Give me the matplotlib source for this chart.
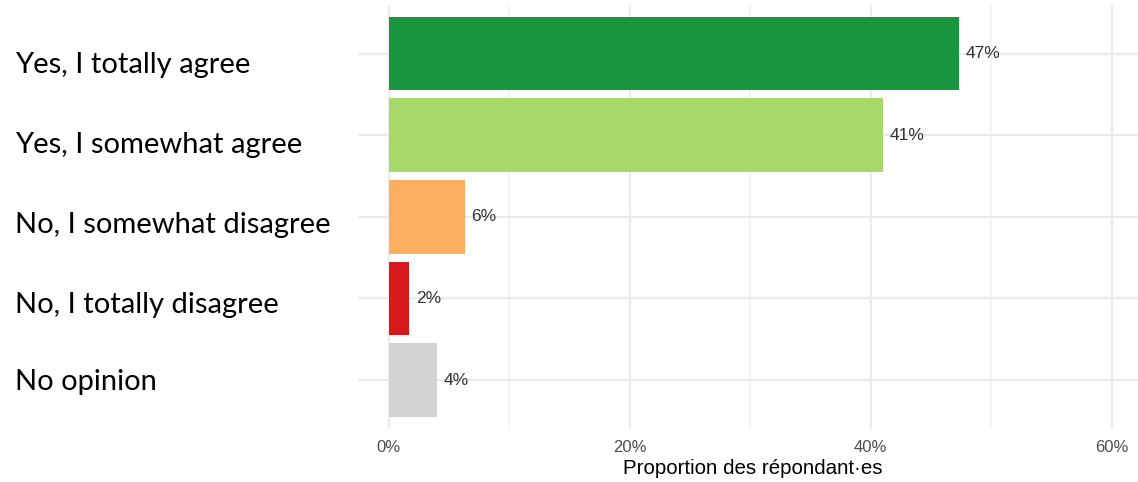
import numpy as np
import matplotlib
matplotlib.use("Agg")
import matplotlib.pyplot as plt

categories = ["Yes, I totally agree", "Yes, I somewhat agree", "No, I somewhat disagree",
              "No, I totally disagree", "No opinion"]
values = [47.3, 41.0, 6.3, 1.7, 4.0]
labels = ["47%", "41%", "6%", "2%", "4%"]
colors = ["#1a9641", "#a6d96a", "#fdae61", "#d7191c", "#d3d3d3"]
xticks = [0, 20, 40, 60]
xticklabels = ["0%", "20%", "40%", "60%"]

W, H = 1138, 482
fig = plt.figure(figsize=(W / 100, H / 100), dpi=100)
left, right, top, bottom = 358, 1148, 4.6, 429
ax = fig.add_axes([left / W, (H - bottom) / H, (right - left) / W, (bottom - top) / H])

y = np.arange(len(categories))
ax.barh(y, values, height=0.9, color=colors, zorder=3)
for yi, v, lab in zip(y, values, labels):
    ax.text(v + 0.55, yi, lab, va="center", ha="left", fontsize=12.5,
            color="#333333", family="Liberation Sans", zorder=4)

ax.set_xlim(-2.55, 63.0)
ax.set_ylim(len(categories) - 0.4, -0.6)

ax.set_xticks(xticks)
ax.set_xticklabels(xticklabels, family="Liberation Sans", fontsize=12, color="#4d4d4d")
ax.set_xticks([10, 30, 50], minor=True)
ax.set_yticks(y)
ax.set_yticklabels([])
ax.tick_params(axis="y", length=0)
ax.tick_params(axis="x", which="both", length=0, pad=8)

ax.grid(True, which="major", color="#ebebeb", lw=1.6, zorder=0)
ax.grid(True, which="minor", axis="x", color="#f2f2f2", lw=1.2, zorder=0)
for s in ax.spines.values():
    s.set_visible(False)

ax.set_xlabel("Proportion des répondant·es", family="Liberation Sans", fontsize=14.8,
              color="black", labelpad=3)

# category labels were pasted next to the chart in a Calibri-like font
label_baselines = [73, 153, 233, 313, 390]
for cat, b in zip(categories, label_baselines):
    fig.text(15 / W, 1 - b / H, cat, family="Lato", fontsize=21, color="black",
             ha="left", va="baseline")

fig.savefig("out.png", dpi=100)
